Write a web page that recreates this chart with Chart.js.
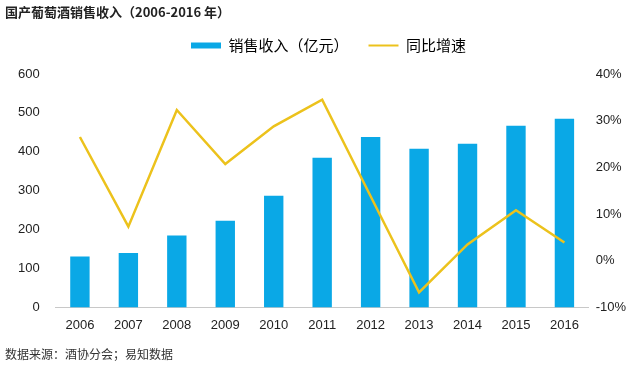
<!DOCTYPE html>
<html>
<head>
<meta charset="utf-8">
<script src="https://cdn.jsdelivr.net/npm/chart.js@4/dist/chart.umd.min.js"></script>
<style>
  html, body { margin: 0; padding: 0; background: #fff; }
  .wrap { position: relative; width: 640px; height: 369px; }
  .title { position: absolute; left: 5px; top: 2px; font: 13px "Noto Sans CJK SC", sans-serif; color: #222; font-weight: 700; }
  .source { position: absolute; left: 5px; top: 345px; font: 12px "Noto Sans CJK SC", sans-serif; color: #333; }
</style>
</head>
<body>
<div class="wrap">
  <canvas id="c" width="640" height="369"></canvas>
  <div class="title">国产葡萄酒销售收入（2006-2016 年）</div>
  <div class="source">数据来源：酒协分会；易知数据</div>
</div>
<script>
// categories and series
const years = ['2006', '2007', '2008', '2009', '2010', '2011', '2012', '2013', '2014', '2015', '2016'];
const revenue = [131, 140, 185, 223, 287, 385, 438, 408, 421, 467, 485];
const growth = [26.5, 7.3, 32.3, 20.7, 28.8, 34.5, 13.8, -6.8, 3.5, 10.8, 3.9];

const BLUE = '#0aa8e6';
const YELLOW = '#ecc21c';
const tickFont = { family: '"Liberation Sans", Arial, sans-serif', size: 13 };

// leave a gap under the legend and nudge it right a little
const legendTweak = {
  id: 'legendTweak',
  beforeInit(chart) {
    const fit = chart.legend.fit;
    chart.legend.fit = function () {
      fit.bind(chart.legend)();
      this.height += 11;
    };
  },
  afterLayout(chart) {
    chart.legend.left += 11;
    chart.legend.right += 11;
  }
};

new Chart(document.getElementById('c'), {
  data: {
    labels: years,
    datasets: [
      {
        type: 'line',
        label: '同比增速',
        data: growth,
        yAxisID: 'y2',
        borderColor: YELLOW,
        borderWidth: 2.5,
        pointRadius: 0,
        tension: 0,
        fill: false
      },
      {
        type: 'bar',
        label: '销售收入（亿元）',
        data: revenue,
        yAxisID: 'y',
        backgroundColor: BLUE,
        barPercentage: 0.4,
        categoryPercentage: 1
      }
    ]
  },
  options: {
    responsive: false,
    animation: false,
    layout: { padding: { top: 18, left: 2, right: 7, bottom: 26 } },
    scales: {
      x: {
        grid: { display: false, drawTicks: false },
        border: { display: true, color: '#c8c8c8', width: 1 },
        ticks: { color: '#222', font: tickFont, padding: 10 }
      },
      y: {
        position: 'left',
        min: 0, max: 600,
        grid: { display: false, drawTicks: false },
        border: { display: false },
        ticks: { stepSize: 100, color: '#222', font: tickFont, padding: 16 }
      },
      y2: {
        position: 'right',
        min: -10, max: 40,
        grid: { display: false, drawTicks: false },
        border: { display: false },
        ticks: { stepSize: 10, color: '#222', font: tickFont, padding: 7,
          callback: v => v + '%' }
      }
    },
    plugins: {
      tooltip: { enabled: false },
      legend: {
        position: 'top',
        labels: {
          font: { family: '"Noto Sans CJK SC", sans-serif', size: 15 },
          color: '#222',
          usePointStyle: true,
          pointStyleWidth: 30,
          boxHeight: 6,
          padding: 20,
          generateLabels: () => [
            { text: '销售收入（亿元）', pointStyle: 'rect', fillStyle: BLUE, strokeStyle: BLUE, lineWidth: 0, datasetIndex: 1 },
            { text: '同比增速', pointStyle: 'line', fillStyle: YELLOW, strokeStyle: YELLOW, lineWidth: 2, datasetIndex: 0 }
          ]
        }
      }
    }
  },
  plugins: [legendTweak]
});
</script>
</body>
</html>
